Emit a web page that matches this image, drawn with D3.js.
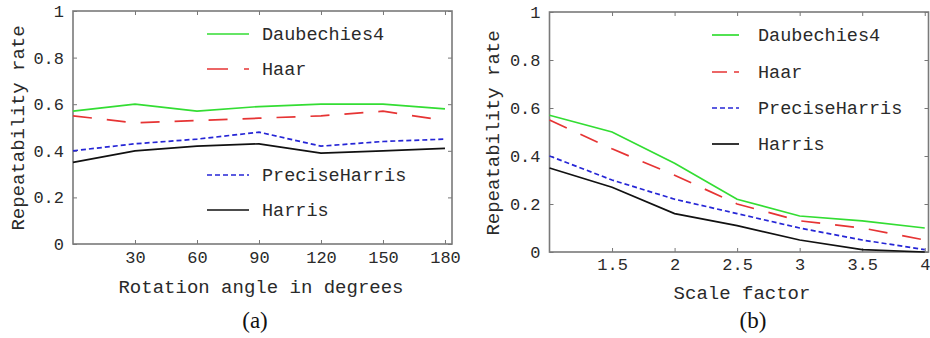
<!DOCTYPE html>
<html>
<head>
<meta charset="utf-8">
<script src="https://cdn.jsdelivr.net/npm/d3@7"></script>
<style>
  body { margin: 0; background: #fff; }
  svg { display: block; }
  text { font-family: "Liberation Mono", "DejaVu Sans Mono", monospace; fill: #2a2a2a; }
  .caption { font-family: "Liberation Serif", serif; fill: #111; }
</style>
</head>
<body>
<svg id="chart" width="930" height="338"></svg>
<script>
// series names, shared by both panels
const seriesNames = ["Daubechies4", "Haar", "PreciseHarris", "Harris"];

// panel (a): rotation
const angles = [0, 30, 60, 90, 120, 150, 180];
const rotDaubechies4 = [0.57, 0.60, 0.57, 0.59, 0.60, 0.60, 0.58];
const rotHaar = [0.55, 0.52, 0.53, 0.54, 0.55, 0.57, 0.53];
const rotPreciseHarris = [0.40, 0.43, 0.45, 0.48, 0.42, 0.44, 0.45];
const rotHarris = [0.35, 0.40, 0.42, 0.43, 0.39, 0.40, 0.41];
const angleTicks = [30, 60, 90, 120, 150, 180];

// panel (b): scale
const scales = [1, 1.5, 2, 2.5, 3, 3.5, 4];
const scaleDaubechies4 = [0.57, 0.50, 0.37, 0.22, 0.15, 0.13, 0.10];
const scaleHaar = [0.55, 0.43, 0.32, 0.20, 0.13, 0.10, 0.05];
const scalePreciseHarris = [0.40, 0.30, 0.22, 0.16, 0.10, 0.05, 0.01];
const scaleHarris = [0.35, 0.27, 0.16, 0.11, 0.05, 0.01, 0.00];
const scaleTicks = [1.5, 2, 2.5, 3, 3.5, 4];

const yTicks = [0, 0.2, 0.4, 0.6, 0.8, 1];

const styles = {
  Daubechies4: { color: "#33dd33", dash: null },
  Haar: { color: "#e63434", dash: "19,15" },
  PreciseHarris: { color: "#2626d6", dash: "5,3" },
  Harris: { color: "#111111", dash: null }
};

const svg = d3.select("#chart");

function drawPanel(p) {
  const x = d3.scaleLinear().domain(p.xDomain).range([p.left, p.right]);
  const y = d3.scaleLinear().domain([0, 1]).range([p.bottom, p.top]);
  const g = svg.append("g");

  // inward tick marks on all four sides
  const styleAxis = sel => {
    sel.select(".domain").remove();
    sel.selectAll("line").attr("stroke", "#777").attr("stroke-width", 1);
  };
  g.append("g").attr("transform", `translate(0,${p.bottom})`)
    .call(d3.axisBottom(x).tickValues(p.xTicks).tickSize(-4).tickPadding(p.xPad).tickFormat(d3.format("")))
    .call(styleAxis)
    .selectAll("text").style("font-size", "17px").attr("fill", "#2a2a2a");
  g.append("g").attr("transform", `translate(0,${p.top})`)
    .call(d3.axisTop(x).tickValues(p.xTicks).tickSize(-4).tickFormat(""))
    .call(styleAxis);
  g.append("g").attr("transform", `translate(${p.left},0)`)
    .call(d3.axisLeft(y).tickValues(yTicks).tickSize(-4).tickPadding(p.yPad).tickFormat(d3.format("")))
    .call(styleAxis)
    .selectAll("text").style("font-size", "17px").attr("fill", "#2a2a2a");
  g.append("g").attr("transform", `translate(${p.right},0)`)
    .call(d3.axisRight(y).tickValues(yTicks).tickSize(-4).tickFormat(""))
    .call(styleAxis);

  // frame
  g.append("rect")
    .attr("x", p.left).attr("y", p.top)
    .attr("width", p.right - p.left).attr("height", p.bottom - p.top)
    .attr("fill", "none").attr("stroke", "#7a7a7a").attr("stroke-width", 1.6);

  // lines
  const line = d3.line().x(d => x(d[0])).y(d => y(d[1]));
  p.series.forEach((vals, i) => {
    const name = seriesNames[i];
    g.append("path")
      .datum(p.xs.map((v, j) => [v, vals[j]]))
      .attr("d", line)
      .attr("fill", "none")
      .attr("stroke", styles[name].color)
      .attr("stroke-width", 1.7)
      .attr("stroke-dasharray", styles[name].dash);
  });

  // legend
  seriesNames.forEach((name, i) => {
    const ly = p.legendY[i];
    g.append("line")
      .attr("x1", p.legendX).attr("x2", p.legendX + p.legendLen)
      .attr("y1", ly).attr("y2", ly)
      .attr("stroke", styles[name].color).attr("stroke-width", 1.7)
      .attr("stroke-dasharray", name === "Haar" ? p.haarLegendDash : styles[name].dash);
    g.append("text")
      .attr("x", p.legendTextX).attr("y", ly).attr("dy", "0.35em")
      .style("font-size", "18.5px")
      .text(name);
  });

  // axis titles
  g.append("text")
    .attr("x", p.xTitleX).attr("y", p.xTitleY)
    .attr("text-anchor", "middle").style("font-size", "19px")
    .text(p.xTitle);
  g.append("text")
    .attr("transform", `translate(${p.yTitleX},${p.yTitleY}) rotate(-90)`)
    .attr("text-anchor", "middle").style("font-size", "19px")
    .text("Repeatability rate");
  g.append("text").attr("class", "caption")
    .attr("x", p.captionX).attr("y", 328)
    .attr("text-anchor", "middle").style("font-size", "23px")
    .text(p.caption);
}

drawPanel({
  xs: angles, xDomain: [0, 183.4], xTicks: angleTicks,
  series: [rotDaubechies4, rotHaar, rotPreciseHarris, rotHarris],
  left: 73, right: 452, top: 11, bottom: 244, xPad: 7, yPad: 9,
  legendX: 207, legendLen: 42, legendTextX: 262, legendY: [34, 69, 175, 210],
  haarLegendDash: "21,16",
  xTitle: "Rotation angle in degrees", xTitleX: 261, xTitleY: 293,
  yTitleX: 24, yTitleY: 128, caption: "(a)", captionX: 255
});

drawPanel({
  xs: scales, xDomain: [1, 4.03], xTicks: scaleTicks,
  series: [scaleDaubechies4, scaleHaar, scalePreciseHarris, scaleHarris],
  left: 549.5, right: 928.5, top: 12, bottom: 252, xPad: 6, yPad: 9,
  legendX: 712, legendLen: 27, legendTextX: 758, legendY: [35, 72, 108, 144],
  haarLegendDash: "15,7",
  xTitle: "Scale factor", xTitleX: 742, xTitleY: 299,
  yTitleX: 499, yTitleY: 133, caption: "(b)", captionX: 753
});
</script>
</body>
</html>
